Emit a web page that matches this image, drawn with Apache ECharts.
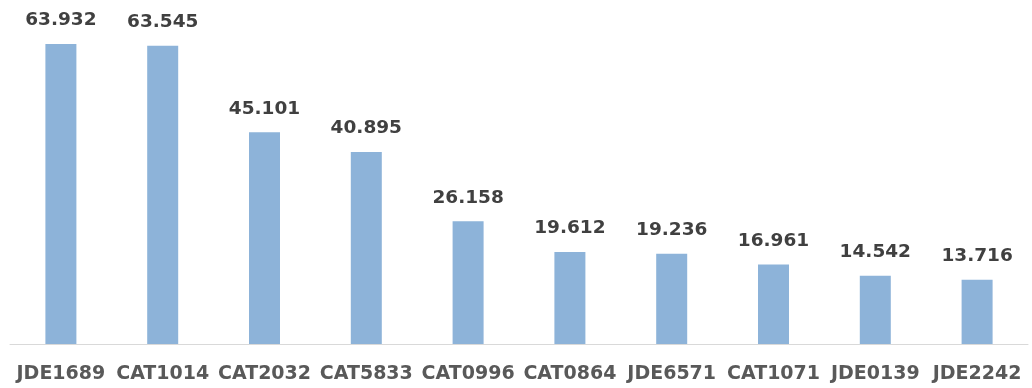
<!DOCTYPE html>
<html>
<head>
<meta charset="utf-8">
<script src="https://cdn.jsdelivr.net/npm/echarts@6/dist/echarts.min.js"></script>
<style>html,body{margin:0;padding:0;background:#fff;}#c{width:1032px;height:388px;}</style>
</head>
<body>
<div id="c"></div>
<script>
const categories = ['JDE1689','CAT1014','CAT2032','CAT5833','CAT0996','CAT0864','JDE6571','CAT1071','JDE0139','JDE2242'];
const values = [63.932, 63.545, 45.101, 40.895, 26.158, 19.612, 19.236, 16.961, 14.542, 13.716];

const chart = echarts.init(document.getElementById('c'), null, {renderer: 'canvas'});
chart.setOption({
  animation: false,
  grid: {left: 10, right: 4, top: 15.5, bottom: 44, containLabel: false},
  xAxis: {
    type: 'category',
    data: categories,
    axisLine: {lineStyle: {color: '#D9D9D9', width: 1}},
    axisTick: {show: false},
    axisLabel: {
      margin: 21,
      color: '#595959',
      fontFamily: 'DejaVu Sans',
      fontWeight: 'bold',
      fontSize: 19,
      interval: 0
    }
  },
  yAxis: {
    type: 'value', min: 0, max: 70, interval: 10,
    show: false,
    splitLine: {show: false}
  },
  series: [{
    type: 'bar',
    data: values,
    barWidth: 31,
    itemStyle: {color: '#8DB3D9'},
    label: {
      show: true,
      position: 'top',
      distance: 14,
      color: '#404040',
      fontFamily: 'DejaVu Sans',
      fontWeight: 'bold',
      fontSize: 18.5,
      formatter: p => p.value.toFixed(3)
    }
  }]
});
</script>
</body>
</html>
